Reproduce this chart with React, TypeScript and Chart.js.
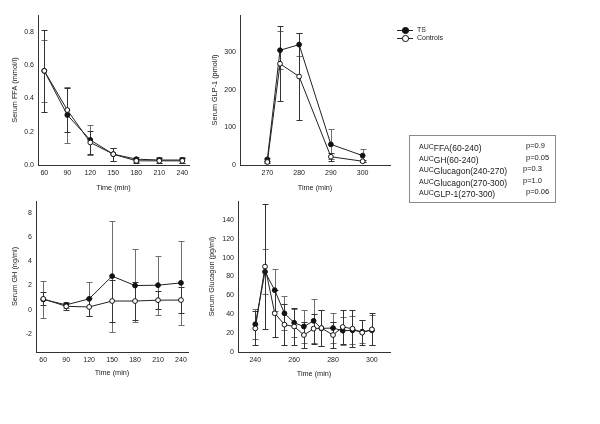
import React, { useEffect, useRef } from "react";
import { Chart, registerables } from "chart.js";

Chart.register(...registerables);

// ---------- DATA ----------
const ffaTimes = [60, 90, 120, 150, 180, 210, 240];
const ffaTS = [0.565, 0.3, 0.15, 0.065, 0.035, 0.03, 0.03];
const ffaTSErr = [0.185, 0.17, 0.09, 0.04, 0.015, 0.02, 0.02];
const ffaCtrl = [0.565, 0.33, 0.135, 0.065, 0.025, 0.025, 0.025];
const ffaCtrlErr = [0.245, 0.13, 0.07, 0.04, 0.012, 0.015, 0.015];
const ffaYTicks = [0, 0.2, 0.4, 0.6, 0.8];
const ffaXTicks = [60, 90, 120, 150, 180, 210, 240];

const glpTimes = [270, 274, 280, 290, 300];
const glpTS = [15, 306, 321, 55, 25];
const glpTSErr = [5, 50, 30, 40, 17];
const glpCtrl = [8, 270, 236, 22, 10];
const glpCtrlErr = [3, 100, 115, 10, 3];
const glpYTicks = [0, 100, 200, 300];
const glpXTicks = [270, 280, 290, 300];

const ghTimes = [60, 90, 120, 150, 180, 210, 240];
const ghTS = [0.85, 0.4, 0.9, 2.78, 2.0, 2.03, 2.22];
const ghTSErr = [1.5, 0.25, 1.4, 4.6, 3.05, 2.45, 3.45];
const ghCtrl = [0.9, 0.28, 0.23, 0.72, 0.72, 0.79, 0.8];
const ghCtrlErr = [0.55, 0.3, 0.75, 1.75, 1.55, 0.75, 1.05];
const ghYTicks = [-2, 0, 2, 4, 6, 8];
const ghXTicks = [60, 90, 120, 150, 180, 210, 240];

const gluTimes = [240, 245, 250, 255, 260, 265, 270, 274, 280, 285, 290, 295, 300];
const gluTS = [29.4, 85, 65.5, 41, 31, 27, 33, 25, 25.4, 22.6, 23, 21.5, 23];
const gluTSErr = [16, 24, 22, 18, 15, 17.5, 23.5, 19, 16, 15, 15, 12, 16];
const gluCtrl = [25, 90.5, 41, 29, 27, 18, 24.7, 25.4, 18, 26.5, 24.7, 20.5, 24];
const gluCtrlErr = [18, 66, 25, 21.5, 19.5, 14, 16, 19, 14, 18, 19.5, 13, 17];
const gluYTicks = [0, 20, 40, 60, 80, 100, 120, 140];
const gluXTicks = [240, 260, 280, 300];

const seriesNames = ["TS", "Controls"];
const aucLabels = [
  "FFA(60-240)",
  "GH(60-240)",
  "Glucagon(240-270)",
  "Glucagon(270-300)",
  "GLP-1(270-300)",
];
const aucP = ["p=0.9", "p=0.05", "p=0.3", "p=1.0", "p=0.06"];
const aucPX = [526, 526, 523, 523, 526];

// ---------- STYLE ----------
const FONT = "'Liberation Sans', Arial, sans-serif";
const TEXT = "#1a1a1a";

const errorBarPlugin = {
  id: "errorBars",
  beforeDatasetsDraw(chart: any) {
    const ctx = chart.ctx;
    const yScale = chart.scales.y;
    chart.data.datasets.forEach((ds: any, i: number) => {
      const meta = chart.getDatasetMeta(i);
      ctx.save();
      ctx.strokeStyle = ds.errorColor;
      ctx.lineWidth = 1;
      meta.data.forEach((pt: any, j: number) => {
        const v = ds.data[j].y;
        const e = ds.errors[j];
        const x = Math.round(pt.x) + 0.5;
        const yT = Math.round(yScale.getPixelForValue(v + e)) + 0.5;
        const yB = Math.round(yScale.getPixelForValue(v - e)) + 0.5;
        ctx.beginPath();
        ctx.moveTo(x, yT);
        ctx.lineTo(x, yB);
        ctx.moveTo(x - 3, yT);
        ctx.lineTo(x + 3, yT);
        ctx.moveTo(x - 3, yB);
        ctx.lineTo(x + 3, yB);
        ctx.stroke();
      });
      ctx.restore();
    });
  },
};

type PanelCfg = {
  left: number;
  top: number;
  width: number;
  height: number;
  W: number;
  H: number;
  xmin: number;
  xmax: number;
  xticks: number[];
  ymin: number;
  ymax: number;
  yticks: number[];
  yfmt: (v: number) => string;
  ytitle: string;
  times: number[];
  ts: number[];
  tsErr: number[];
  ctrl: number[];
  ctrlErr: number[];
};

function Panel({ cfg }: { cfg: PanelCfg }) {
  const ref = useRef<HTMLCanvasElement | null>(null);
  useEffect(() => {
    if (!ref.current) return;
    const tickFont = { family: FONT, size: 7 };
    const titleFont = { family: FONT, size: 7.3 };
    const chart = new Chart(ref.current, {
      type: "line",
      data: {
        datasets: [
          {
            label: seriesNames[0],
            data: cfg.times.map((t, i) => ({ x: t, y: cfg.ts[i] })),
            errors: cfg.tsErr,
            errorColor: "#6e6e6e",
            borderColor: "#222",
            borderWidth: 1,
            pointRadius: 2.4,
            pointBackgroundColor: "#111",
            pointBorderColor: "#111",
            pointBorderWidth: 1,
            tension: 0,
            order: 1,
          } as any,
          {
            label: seriesNames[1],
            data: cfg.times.map((t, i) => ({ x: t, y: cfg.ctrl[i] })),
            errors: cfg.ctrlErr,
            errorColor: "#333",
            borderColor: "#222",
            borderWidth: 1,
            pointRadius: 2.4,
            pointBackgroundColor: "#fff",
            pointBorderColor: "#111",
            pointBorderWidth: 1,
            tension: 0,
            order: 0,
          } as any,
        ],
      },
      options: {
        animation: false,
        responsive: false,
        devicePixelRatio: 1,
        layout: { padding: { top: 4, right: 8, left: 0, bottom: 0 } },
        plugins: { legend: { display: false }, tooltip: { enabled: false } },
        scales: {
          x: {
            type: "linear",
            min: cfg.xmin,
            max: cfg.xmax,
            grid: { display: false, drawTicks: false },
            border: { display: true, color: "#333", width: 1 },
            ticks: {
              font: tickFont,
              color: TEXT,
              padding: 4,
              maxRotation: 0,
              autoSkip: false,
              callback: (v: any) => String(v),
            },
            title: { display: true, text: "Time (min)", font: titleFont, color: TEXT, padding: 0 },
            afterBuildTicks: (s: any) => {
              s.ticks = cfg.xticks.map((v) => ({ value: v }));
            },
            afterFit: (s: any) => {
              s.height = cfg.H;
              s.paddingLeft = 0;
              s.paddingRight = 0;
            },
          },
          y: {
            type: "linear",
            min: cfg.ymin,
            max: cfg.ymax,
            grid: { display: false, drawTicks: false },
            border: { display: true, color: "#333", width: 1 },
            ticks: {
              font: tickFont,
              color: TEXT,
              padding: 4,
              autoSkip: false,
              callback: (v: any) => cfg.yfmt(Number(v)),
            },
            title: { display: true, text: cfg.ytitle, font: titleFont, color: TEXT, padding: 0 },
            afterBuildTicks: (s: any) => {
              s.ticks = cfg.yticks.map((v) => ({ value: v }));
            },
            afterFit: (s: any) => {
              s.width = cfg.W;
              s.paddingTop = 0;
              s.paddingBottom = 0;
            },
          },
        },
      } as any,
      plugins: [errorBarPlugin],
    });
    return () => chart.destroy();
  }, [cfg]);
  return (
    <canvas
      ref={ref}
      width={cfg.width}
      height={cfg.height}
      style={{ position: "absolute", left: cfg.left, top: cfg.top, width: cfg.width, height: cfg.height }}
    />
  );
}

const panels: PanelCfg[] = [
  {
    left: 11, top: 10, width: 186, height: 182, W: 27, H: 27,
    xmin: 51.8, xmax: 248.7, xticks: ffaXTicks,
    ymin: 0, ymax: 0.9, yticks: ffaYTicks, yfmt: (v) => v.toFixed(1),
    ytitle: "Serum FFA (mmol/l)",
    times: ffaTimes, ts: ffaTS, tsErr: ffaTSErr, ctrl: ffaCtrl, ctrlErr: ffaCtrlErr,
  },
  {
    left: 211, top: 10, width: 187, height: 182, W: 29, H: 27,
    xmin: 261.4, xmax: 308.6, xticks: glpXTicks,
    ymin: 0, ymax: 400, yticks: glpYTicks, yfmt: (v) => String(v),
    ytitle: "Serum GLP-1 (pmol/l)",
    times: glpTimes, ts: glpTS, tsErr: glpTSErr, ctrl: glpCtrl, ctrlErr: glpCtrlErr,
  },
  {
    left: 11, top: 196, width: 185, height: 181, W: 25, H: 25,
    xmin: 50.5, xmax: 249.2, xticks: ghXTicks,
    ymin: -3.5, ymax: 9, yticks: ghYTicks, yfmt: (v) => String(v),
    ytitle: "Serum GH (ng/ml)",
    times: ghTimes, ts: ghTS, tsErr: ghTSErr, ctrl: ghCtrl, ctrlErr: ghCtrlErr,
  },
  {
    left: 208, top: 196, width: 190, height: 182, W: 30, H: 26,
    xmin: 231.1, xmax: 309.3, xticks: gluXTicks,
    ymin: 0, ymax: 160, yticks: gluYTicks, yfmt: (v) => String(v),
    ytitle: "Serum Glucagon (pg/ml)",
    times: gluTimes, ts: gluTS, tsErr: gluTSErr, ctrl: gluCtrl, ctrlErr: gluCtrlErr,
  },
];

const textBase: React.CSSProperties = {
  position: "absolute",
  lineHeight: "10px",
  fontFamily: FONT,
  color: TEXT,
  whiteSpace: "nowrap",
  willChange: "transform",
};

function LegendRow({ y, filled, label }: { y: number; filled: boolean; label: string }) {
  return (
    <>
      <div style={{ position: "absolute", left: 397, top: y, width: 16, height: 1, background: "#222" }} />
      <div
        style={{
          position: "absolute",
          left: 402.3,
          top: y - 2.7,
          width: 4.4,
          height: 4.4,
          borderRadius: "50%",
          border: "1px solid #111",
          background: filled ? "#111" : "#fff",
        }}
      />
      <div style={{ ...textBase, left: 416.5, top: y - 5, fontSize: 7 }}>{label}</div>
    </>
  );
}

export default function App() {
  return (
    <div
      style={{
        position: "fixed",
        left: 0,
        top: 0,
        width: 600,
        height: 424,
        background: "#fff",
        overflow: "hidden",
      }}
    >
      {panels.map((p, i) => (
        <Panel key={i} cfg={p} />
      ))}
      <LegendRow y={30} filled={true} label={seriesNames[0]} />
      <LegendRow y={38} filled={false} label={seriesNames[1]} />
      <div
        style={{
          position: "absolute",
          left: 409,
          top: 135,
          width: 145,
          height: 66,
          border: "1px solid #8a8a8a",
        }}
      />
      {aucLabels.map((lab, i) => {
        const yc = 146 + i * 11.6;
        return (
          <React.Fragment key={i}>
            <div style={{ ...textBase, left: 419, top: Math.round(yc - 5), fontSize: 7 }}>
              AUC
              <span style={{ fontSize: 8.5, position: "relative", top: 2 }}>{lab}</span>
            </div>
            <div style={{ ...textBase, left: aucPX[i], top: Math.round(yc - 5), fontSize: 7.5 }}>
              {aucP[i]}
            </div>
          </React.Fragment>
        );
      })}
    </div>
  );
}
